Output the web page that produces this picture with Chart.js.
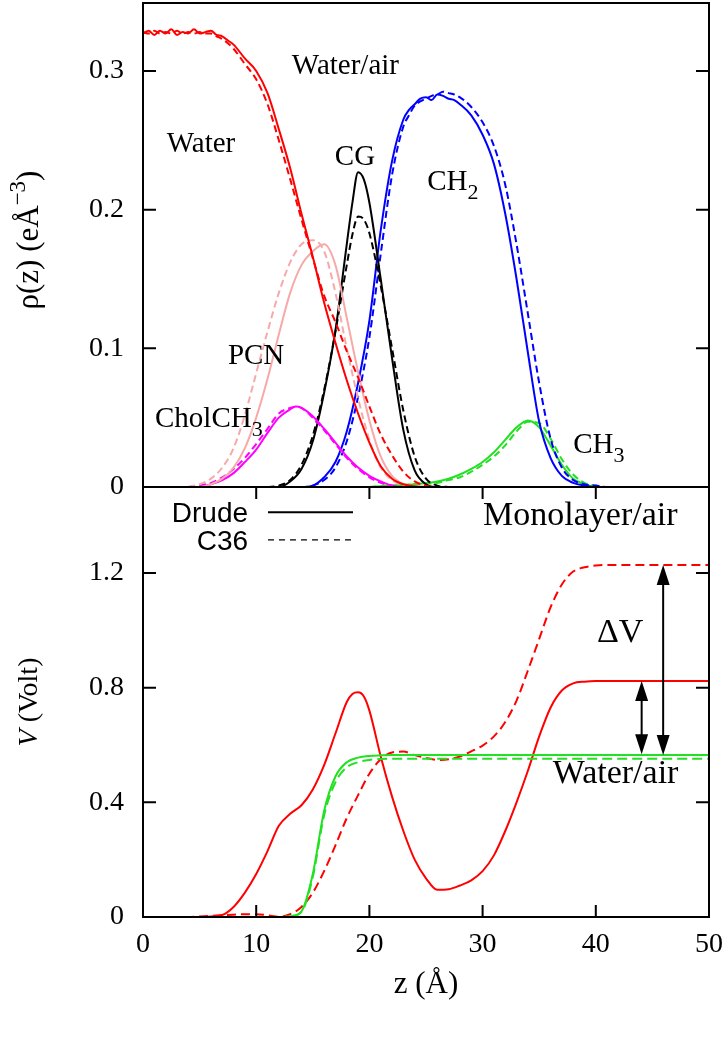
<!DOCTYPE html>
<html><head><meta charset="utf-8">
<script src="https://cdn.jsdelivr.net/npm/chart.js@4.4.1/dist/chart.umd.min.js"></script>
<style>
html,body{margin:0;padding:0;background:#fff;}
#wrap{position:relative;width:728px;height:1050px;overflow:hidden;}
#c1{position:absolute;left:0;top:0;width:728px;height:520px;}
#c2{position:absolute;left:0;top:480px;width:728px;height:570px;}
</style></head><body>
<div id="wrap">
<canvas id="c1" width="728" height="520"></canvas>
<canvas id="c2" width="728" height="570"></canvas>
</div>
<script>
// ---------------- ticks ----------------
const zTicks = [0,10,20,30,40,50];
const zTickLabels = ['0','10','20','30','40','50'];
const rhoTicks = [0,0.1,0.2,0.3];
const rhoTickLabels = ['0','0.1','0.2','0.3'];
const vTicks = [0,0.4,0.8,1.2];
const vTickLabels = ['0','0.4','0.8','1.2'];

// ---------------- top panel: electron density ----------------
const waterZ = [0,0.5,1,1.5,2,2.5,3,3.5,4,4.5,5,5.5,6,6.5,7,7.5,8,9,10,11,12,13,14,15,16,17,18,19,20,21,22,23,24,25,26,50];
const waterDrude = [0.327,0.329,0.326,0.329,0.327,0.330,0.326,0.328,0.327,0.330,0.327,0.328,0.329,0.326,0.325,0.322,0.319,0.309,0.300,0.284,0.258,0.230,0.197,0.166,0.133,0.104,0.077,0.053,0.032,0.015,0.006,0.002,0.0005,0,0,0];
const waterC36 = [0.328,0.327,0.329,0.327,0.328,0.327,0.329,0.327,0.328,0.327,0.328,0.327,0.327,0.325,0.323,0.320,0.316,0.305,0.294,0.276,0.250,0.222,0.193,0.165,0.138,0.119,0.098,0.079,0.058,0.038,0.023,0.011,0.004,0.001,0,0];

const pcnZ = [4,5,6,7,8,9,10,11,12,13,14,15,16,17,18,19,20,21,22,23,24];
const pcnDrude = [0,0,0.002,0.006,0.014,0.028,0.050,0.078,0.110,0.140,0.160,0.170,0.175,0.160,0.122,0.083,0.048,0.022,0.008,0.002,0];
const pcnC36 = [0,0.002,0.006,0.014,0.028,0.052,0.082,0.112,0.140,0.162,0.175,0.178,0.170,0.140,0.100,0.064,0.034,0.014,0.005,0.001,0];

const cholZ = [4,5,6,7,8,9,10,11,12,13,13.5,14,15,16,17,18,19,20,21,22,23,24];
const cholDrude = [0,0,0.002,0.005,0.010,0.018,0.027,0.039,0.050,0.056,0.058,0.057,0.051,0.042,0.032,0.022,0.014,0.008,0.004,0.001,0,0];
const cholC36 = [0,0.001,0.003,0.007,0.013,0.021,0.031,0.042,0.053,0.057,0.058,0.057,0.050,0.041,0.031,0.021,0.013,0.007,0.003,0.001,0,0];

const cgZ = [11,12,13,14,15,16,17,18,18.5,19,19.5,20,21,22,23,24,25,26,27];
const cgDrude = [0,0,0.004,0.013,0.033,0.068,0.113,0.175,0.205,0.227,0.222,0.205,0.150,0.093,0.041,0.012,0.002,0,0];
const cgC36 = [0,0.001,0.005,0.016,0.037,0.070,0.112,0.160,0.182,0.195,0.193,0.183,0.145,0.100,0.055,0.022,0.006,0.001,0];

const ch2Z = [13,14,15,16,17,18,19,20,21,22,23,23.5,24,24.5,25,25.5,26,26.5,27,27.5,28,29,30,31,32,33,34,35,36,37,38,39,40,41,50];
const ch2Drude = [0,0,0.001,0.007,0.018,0.040,0.075,0.120,0.185,0.235,0.265,0.272,0.276,0.280,0.281,0.279,0.283,0.282,0.280,0.279,0.276,0.268,0.254,0.233,0.197,0.150,0.097,0.047,0.021,0.008,0.003,0.001,0,0,0];
const ch2C36 = [0,0,0.001,0.005,0.014,0.033,0.065,0.108,0.168,0.225,0.260,0.268,0.275,0.278,0.280,0.282,0.283,0.285,0.284,0.283,0.281,0.274,0.263,0.246,0.218,0.175,0.125,0.075,0.035,0.014,0.005,0.002,0.001,0,0];

const ch3Z = [20,22,24,26,27,28,29,30,31,32,33,34,35,36,37,38,39,40,41,42];
const ch3Drude = [0,0.001,0.002,0.004,0.006,0.009,0.013,0.018,0.025,0.034,0.043,0.048,0.043,0.030,0.016,0.006,0.002,0,0,0];
const ch3C36 = [0,0.001,0.002,0.003,0.005,0.007,0.011,0.016,0.022,0.030,0.040,0.047,0.046,0.035,0.020,0.009,0.003,0.001,0,0];

// ---------------- bottom panel: electrostatic potential ----------------
const vMonoZDrude = [0,1,2,3,4,5,6,7,8,9,10,11,12,13,14,15,16,17,18,18.5,19,19.5,20,21,22,23,24,25,26,27,28,29,30,31,32,33,34,35,36,37,38,39,40,50];
const vMonoDrude = [0,0,0,0,0,0,0.002,0.007,0.035,0.085,0.150,0.230,0.318,0.360,0.390,0.445,0.530,0.640,0.750,0.778,0.784,0.770,0.720,0.560,0.420,0.300,0.200,0.135,0.095,0.097,0.110,0.128,0.160,0.215,0.300,0.400,0.510,0.630,0.730,0.790,0.815,0.821,0.823,0.823];
const vMonoZC36 = [0,1,2,3,4,5,6,7,8,9,10,11,12,13,14,15,16,17,18,19,20,21,22,23,24,25,26,27,28,29,30,31,32,33,34,35,36,37,38,39,40,41,50];
const vMonoC36 = [0,0,0,0,0,0.002,0.004,0.006,0.008,0.010,0.010,0.006,0.001,0.010,0.035,0.085,0.160,0.250,0.345,0.425,0.500,0.550,0.574,0.577,0.565,0.555,0.548,0.550,0.560,0.578,0.598,0.630,0.680,0.755,0.860,0.970,1.080,1.160,1.205,1.220,1.226,1.228,1.228];
const vWaterZ = [0,12,13,14,15,16,17,18,19,20,21,22,50];
const vWaterDrude = [0,0,0.003,0.020,0.150,0.370,0.490,0.540,0.556,0.562,0.564,0.565,0.565];
const vWaterC36 = [0,0,0.003,0.018,0.140,0.355,0.470,0.522,0.540,0.548,0.551,0.552,0.552];

// potential-jump arrows (z, upper V, lower V)
const arrowZ = [44.05, 45.95];
const arrowTop = [0.823, 1.228];
const arrowBottom = [0.568, 0.565];

// ---------------- helpers ----------------
const SERIF = '"Liberation Serif", "Times New Roman", serif';
const SANS = '"Liberation Sans", Arial, sans-serif';
function pts(zs, vs){ return zs.map((z,i)=>({x:z, y:vs[i]})); }
function line(label, zs, vs, color, dashed, dash){
  return {label, data: pts(zs, vs), borderColor: color, backgroundColor: color,
    borderWidth: 2, borderDash: dashed ? (dash || [7,4]) : [], pointRadius: 0,
    cubicInterpolationMode: 'monotone', fill: false};
}
function richWidth(ctx, parts, size, family){
  let w = 0;
  for (const p of parts){
    const s = (p.sub||p.sup) ? Math.round(size*0.75) : size;
    ctx.font = (p.italic?'italic ':'') + s + 'px ' + family;
    w += ctx.measureText(p.t).width;
  }
  return w;
}
function drawRich(ctx, parts, x, y, size, family){
  let cx = x;
  ctx.textBaseline = 'alphabetic'; ctx.textAlign = 'left';
  for (const p of parts){
    const s = (p.sub||p.sup) ? Math.round(size*0.75) : size;
    ctx.font = (p.italic?'italic ':'') + s + 'px ' + family;
    const dy = p.sub ? size*0.32 : (p.sup ? -size*0.42 : 0);
    ctx.fillText(p.t, cx, y+dy);
    cx += ctx.measureText(p.t).width;
  }
}
function noPad(s){ s.paddingTop = 0; s.paddingBottom = 0; s.paddingLeft = 0; s.paddingRight = 0; }

const topLabels = [
  {parts:[{t:'Water/air'}], z:13.15, v:0.2979},
  {parts:[{t:'Water'}], z:2.1, v:0.2416},
  {parts:[{t:'CG'}], z:16.95, v:0.2322},
  {parts:[{t:'CH'},{t:'2',sub:true}], z:25.1, v:0.2142},
  {parts:[{t:'PCN'}], z:7.5, v:0.0888},
  {parts:[{t:'CholCH'},{t:'3',sub:true}], z:1.06, v:0.0434},
  {parts:[{t:'CH'},{t:'3',sub:true}], z:38.0, v:0.0247}
];
const bottomLabels = [
  {parts:[{t:'Monolayer/air'}], z:30.04, v:1.366},
  {parts:[{t:'ΔV'}], z:40.1, v:0.958},
  {parts:[{t:'Water/air'}], z:36.2, v:0.4664}
];

const framePlugin = {
  id: 'frame',
  afterDatasetsDraw(chart, args, opts){
    const {ctx, chartArea:a, scales} = chart;
    ctx.save();
    ctx.strokeStyle = '#000'; ctx.lineWidth = 2;
    ctx.strokeRect(a.left, a.top, a.right-a.left, a.bottom-a.top);
    ctx.beginPath();
    for (const t of scales.y.ticks){
      const py = scales.y.getPixelForValue(t.value);
      if (py >= a.bottom-2 || py <= a.top+2) continue;
      ctx.moveTo(a.left, py); ctx.lineTo(a.left+13, py);
      ctx.moveTo(a.right, py); ctx.lineTo(a.right-13, py);
    }
    if (opts.xTicks){
      for (const t of scales.x.ticks){
        const px = scales.x.getPixelForValue(t.value);
        if (px <= a.left+2 || px >= a.right-2) continue;
        ctx.moveTo(px, a.bottom); ctx.lineTo(px, a.bottom-12);
        ctx.moveTo(px, a.top); ctx.lineTo(px, a.top+12);
      }
    }
    ctx.stroke();
    ctx.restore();
  }
};

const topTextPlugin = {
  id: 'topText',
  afterDraw(chart){
    const {ctx, scales:{x, y}} = chart;
    ctx.save(); ctx.fillStyle = '#000';
    for (const L of topLabels){
      drawRich(ctx, L.parts, x.getPixelForValue(L.z), y.getPixelForValue(L.v), 29, SERIF);
    }
    const parts = [{t:'ρ(z) (eÅ'},{t:'−3',sup:true},{t:')'}];
    const w = richWidth(ctx, parts, 31, SERIF);
    ctx.translate(38, 240); ctx.rotate(-Math.PI/2);
    drawRich(ctx, parts, -w/2, 0, 31, SERIF);
    ctx.restore();
  }
};

const bottomTextPlugin = {
  id: 'bottomText',
  afterDraw(chart){
    const {ctx, scales:{x, y}, chartArea:a} = chart;
    ctx.save(); ctx.fillStyle = '#000'; ctx.strokeStyle = '#000';
    for (const L of bottomLabels){
      drawRich(ctx, L.parts, x.getPixelForValue(L.z), y.getPixelForValue(L.v), 34, SERIF);
    }
    // legend
    ctx.font = '28px ' + SANS; ctx.textAlign = 'right'; ctx.textBaseline = 'alphabetic';
    const lx = x.getPixelForValue(9.28);
    ctx.fillText('Drude', lx, y.getPixelForValue(1.377));
    ctx.fillText('C36', lx, y.getPixelForValue(1.279));
    const x1 = x.getPixelForValue(11.04), x2 = x.getPixelForValue(18.55);
    ctx.lineWidth = 2; ctx.setLineDash([]);
    ctx.beginPath(); ctx.moveTo(x1, y.getPixelForValue(1.412)); ctx.lineTo(x2, y.getPixelForValue(1.412)); ctx.stroke();
    ctx.lineWidth = 1.2; ctx.setLineDash([6,5]);
    ctx.beginPath(); ctx.moveTo(x1, y.getPixelForValue(1.3155)); ctx.lineTo(x2, y.getPixelForValue(1.3155)); ctx.stroke();
    ctx.setLineDash([]);
    // arrows
    ctx.lineWidth = 2; ctx.fillStyle = '#000';
    for (let i=0;i<arrowZ.length;i++){
      const px = x.getPixelForValue(arrowZ[i]);
      const yt = y.getPixelForValue(arrowTop[i]);
      const yb = y.getPixelForValue(arrowBottom[i]);
      ctx.beginPath(); ctx.moveTo(px, yt+10); ctx.lineTo(px, yb-10); ctx.stroke();
      ctx.beginPath(); ctx.moveTo(px, yt); ctx.lineTo(px-6.5, yt+20); ctx.lineTo(px+6.5, yt+20); ctx.closePath(); ctx.fill();
      ctx.beginPath(); ctx.moveTo(px, yb); ctx.lineTo(px-6.5, yb-20); ctx.lineTo(px+6.5, yb-20); ctx.closePath(); ctx.fill();
    }
    // axis titles
    ctx.font = '31px ' + SERIF; ctx.textAlign = 'center'; ctx.textBaseline = 'alphabetic';
    ctx.fillText('z (Å)', (a.left+a.right)/2, 513);
    const parts = [{t:'V',italic:true},{t:' (Volt)'}];
    const w = richWidth(ctx, parts, 28, SERIF);
    const cy = (a.top + a.bottom)/2;
    ctx.translate(37, cy); ctx.rotate(-Math.PI/2);
    drawRich(ctx, parts, -w/2, 0, 28, SERIF);
    ctx.restore();
  }
};

const tickFont = {family: SERIF, size: 28};
const RED = '#ff0000', BLUE = '#0000ff', MAG = '#ff00ff', PINK = '#f7a9a9', GREEN = '#22e022', BLACK = '#000000';

new Chart(document.getElementById('c1'), {
  type: 'line',
  data: { datasets: [
    line('Water Drude', waterZ, waterDrude, RED, false),
    line('Water C36', waterZ, waterC36, RED, true),
    line('PCN Drude', pcnZ, pcnDrude, PINK, false),
    line('PCN C36', pcnZ, pcnC36, PINK, true),
    line('CholCH3 Drude', cholZ, cholDrude, MAG, false),
    line('CholCH3 C36', cholZ, cholC36, MAG, true),
    line('CG Drude', cgZ, cgDrude, BLACK, false),
    line('CG C36', cgZ, cgC36, BLACK, true),
    line('CH2 Drude', ch2Z, ch2Drude, BLUE, false),
    line('CH2 C36', ch2Z, ch2C36, BLUE, true),
    line('CH3 Drude', ch3Z, ch3Drude, GREEN, false),
    line('CH3 C36', ch3Z, ch3C36, GREEN, true)
  ]},
  options: {
    responsive: false, animation: false, devicePixelRatio: 1,
    layout: {padding: {left: 0, right: 19, top: 3, bottom: 33}},
    plugins: {legend: {display: false}, tooltip: {enabled: false}},
    scales: {
      x: {type: 'linear', min: 0, max: 50, display: false, afterFit: noPad},
      y: {type: 'linear', min: 0, max: 0.349,
        afterFit: s => { s.width = 143; noPad(s); },
        afterBuildTicks: s => { s.ticks = rhoTicks.map(v => ({value: v})); },
        ticks: {callback: (v, i) => rhoTickLabels[i], font: tickFont, color: '#000', padding: 19},
        grid: {display: false, drawTicks: false}, border: {display: false}}
    }
  },
  plugins: [framePlugin, topTextPlugin]
});

new Chart(document.getElementById('c2'), {
  type: 'line',
  data: { datasets: [
    line('Water/air Drude', vWaterZ, vWaterDrude, GREEN, false),
    line('Water/air C36', vWaterZ, vWaterC36, GREEN, true, [10,5]),
    line('Monolayer/air Drude', vMonoZDrude, vMonoDrude, RED, false),
    line('Monolayer/air C36', vMonoZC36, vMonoC36, RED, true, [9,5])
  ]},
  options: {
    responsive: false, animation: false, devicePixelRatio: 1,
    layout: {padding: {left: 0, right: 19, top: 7, bottom: 0}},
    plugins: {legend: {display: false}, tooltip: {enabled: false}, frame: {xTicks: true}},
    scales: {
      x: {type: 'linear', min: 0, max: 50,
        afterFit: s => { s.height = 133; noPad(s); },
        afterBuildTicks: s => { s.ticks = zTicks.map(v => ({value: v})); },
        ticks: {callback: (v, i) => zTickLabels[i], font: tickFont, color: '#000', padding: 11, maxRotation: 0, autoSkip: false},
        grid: {display: false, drawTicks: false}, border: {display: false}},
      y: {type: 'linear', min: 0, max: 1.5,
        afterFit: s => { s.width = 143; noPad(s); },
        afterBuildTicks: s => { s.ticks = vTicks.map(v => ({value: v})); },
        ticks: {callback: (v, i) => vTickLabels[i], font: tickFont, color: '#000', padding: 19},
        grid: {display: false, drawTicks: false}, border: {display: false}}
    }
  },
  plugins: [framePlugin, bottomTextPlugin]
});
</script>
</body></html>
